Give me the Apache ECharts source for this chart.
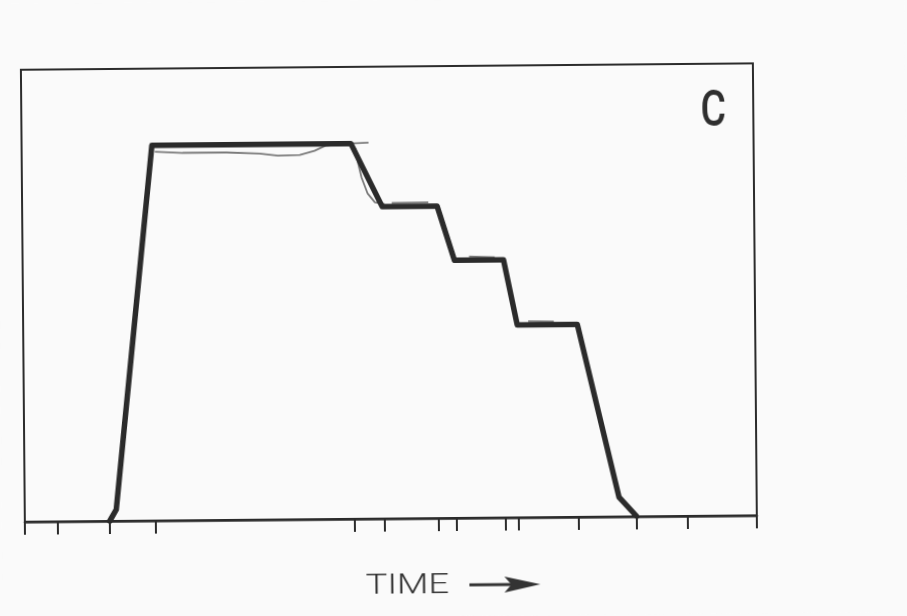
<!DOCTYPE html>
<html>
<head>
<meta charset="utf-8">
<script src="https://cdn.jsdelivr.net/npm/echarts@6/dist/echarts.min.js"></script>
<style>
  html, body { margin: 0; padding: 0; background: #fafafa; overflow: hidden; }
  #chart { width: 907px; height: 616px; transform: rotate(-0.5deg); }
</style>
</head>
<body>
<div id="chart"></div>
<script>
// Tick marks along the time axis (0..100 = full width of the frame)
const tickTimes = [0, 4.5, 11.6, 17.8, 45.0, 49.2, 56.5, 59.0, 65.7, 67.5, 75.7, 83.6, 90.6, 100];

// Programmed profile: rise, hold, three descending steps, final fall
const programTime  = [11.6, 12.5, 17.8, 45.0, 49.2, 56.7, 59.0, 65.7, 67.5, 75.7, 81.2, 83.6];
const programLevel = [0,    2.5,  83,   83,   69,   69,   57,   57,   42.6, 42.6, 4.3,  0];

// Measured trace (thin line) where it separates from the programmed profile
const holdTime   = [18.2, 22,   28,   32.5, 35,   38,   40,   41.5, 44,   47.4];
const holdLevel  = [81.6, 81.3, 81.3, 81.0, 80.5, 80.6, 81.5, 82.6, 83.0, 83.2];
const dropTime   = [45.6, 45.9, 46.4, 47.2, 48.2, 49.5];
const dropLevel  = [82.0, 79.0, 75.5, 72.0, 70.0, 69.6];
const step1Time  = [50.5, 55.5];
const step1Level = [69.8, 69.9];
const step2Time  = [61.0, 64.5];
const step2Level = [57.8, 57.6];
const step3Time  = [69.0, 72.5];
const step3Level = [43.4, 43.3];

const zip = (xs, ys) => xs.map((x, i) => [x, ys[i]]);

const ink = '#2b2b2b';
const traceColor = '#7a7a7a';

function traceSeries(xs, ys) {
  return {
    type: 'line', data: zip(xs, ys), symbol: 'none', z: 2,
    lineStyle: { color: traceColor, width: 1.8 }, silent: true
  };
}

const chart = echarts.init(document.getElementById('chart'), null, { renderer: 'canvas' });
chart.setOption({
  backgroundColor: '#fafafa',
  animation: false,
  grid: {
    left: 23, right: 152, top: 66, bottom: 98,
    show: true, borderColor: ink, borderWidth: 2, backgroundColor: 'transparent'
  },
  xAxis: {
    type: 'value', min: 0, max: 100,
    splitLine: { show: false },
    axisLabel: { show: false },
    axisLine: { show: true, lineStyle: { color: ink, width: 2.5 } },
    axisTick: {
      show: true, inside: false, length: 13,
      customValues: tickTimes,
      lineStyle: { color: ink, width: 2 }
    }
  },
  yAxis: { type: 'value', min: 0, max: 100, show: false },
  series: [
    traceSeries(holdTime, holdLevel),
    traceSeries(dropTime, dropLevel),
    traceSeries(step1Time, step1Level),
    traceSeries(step2Time, step2Level),
    traceSeries(step3Time, step3Level),
    {
      type: 'line', data: zip(programTime, programLevel), symbol: 'none', z: 3,
      lineStyle: { color: ink, width: 5.5, join: 'round', cap: 'round' }
    }
  ],
  graphic: [
    {
      type: 'text', z: 10, x: 715, y: 115, scaleX: 0.78,
      style: {
        x: 0, y: 0, text: 'C', align: 'center', verticalAlign: 'middle',
        font: '500 50px Roboto, "DejaVu Sans", sans-serif',
        fill: '#2e2e2e'
      }
    },
    {
      type: 'text', z: 10, x: 405, y: 586, scaleX: 1.3,
      style: {
        x: 0, y: 0, text: 'TIME', align: 'center', verticalAlign: 'middle',
        font: '300 28px Roboto, "DejaVu Sans", sans-serif', fill: '#333'
      }
    },
    {
      type: 'line', z: 10,
      shape: { x1: 467, y1: 585, x2: 512, y2: 585 },
      style: { stroke: '#333', lineWidth: 3 }
    },
    {
      type: 'polygon', z: 10,
      shape: { points: [[538, 585], [502, 577], [509, 585], [502, 593]] },
      style: { fill: '#333' }
    }
  ]
});
</script>
</body>
</html>
